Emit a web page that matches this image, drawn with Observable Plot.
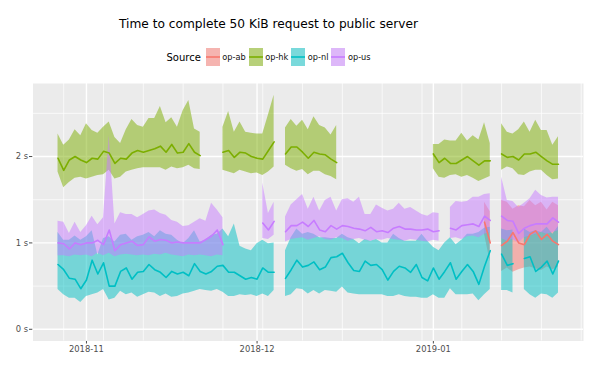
<!DOCTYPE html>
<html>
<head>
<meta charset="utf-8">
<script src="https://cdn.jsdelivr.net/npm/d3@7"></script>
<script src="https://cdn.jsdelivr.net/npm/@observablehq/plot@0.6"></script>
<style>
  body { margin: 0; background: #fff; font-family: "DejaVu Sans", sans-serif; }
  #wrap { position: relative; width: 599px; height: 366px; overflow: hidden; }
  #title { position: absolute; left: 0; width: 537px; top: 17px; line-height: 14px; text-align: center; font-size: 12.2px; color: #000; white-space: nowrap; }
  #legend { position: absolute; left: 0; width: 540px; top: 48px; height: 18px; display: flex; justify-content: center; align-items: center; font-size: 8.2px; color: #111; white-space: nowrap; }
  #legend svg { display: block; }
  #chart { position: absolute; left: 0; top: 75px; }
</style>
</head>
<body>
<div id="wrap">
  <div id="title"></div>
  <div id="legend"></div>
  <div id="chart"></div>
</div>
<script>
const _ = null;

const titleText = "Time to complete 50 KiB request to public server";
const legendTitle = "Source";
const sources = ["op-ab", "op-hk", "op-nl", "op-us"];
const colors = ["#F8766D", "#7CAE00", "#00BFC4", "#C77CFF"];

// first day of each daily series (one value per day, null = no data)
const firstDay = { "op-ab": "2019-01-10", "op-hk": "2018-10-27", "op-nl": "2018-10-27", "op-us": "2018-10-27" };

// op-ab (seconds)
const abLo  = [1.10, 0.78, _, 0.67, 0.71, 0.66, 0.69, 0.71, 0.72, 0.70, 0.68, 0.72, 0.69, 0.72];
const abMed = [1.24, 1.00, _, 0.97, 1.02, 1.12, 1.00, 0.98, 1.10, 1.14, 1.04, 1.10, 1.02, 0.98];
const abHi  = [1.47, 1.36, _, 1.49, 1.47, 1.39, 1.43, 1.42, 1.49, 1.43, 1.47, 1.38, 1.47, 1.43];

// op-hk
const hkMed = [1.98, 1.84, 1.96, 2.00, 1.96, 1.93, 1.98, 1.97, 2.06, 2.04, 1.92, 1.98, 1.97, 2.04, 2.07, 2.05, 2.07, 2.09, 2.12, 2.05, 2.14, 2.04, 2.05, 2.15, 2.05, 2.01,
  _, _, _,
  2.05, 2.07, 1.99, 2.05, 2.04, 2.00, 1.98, 1.97, 2.07, 2.17,
  _,
  2.03, 2.11, 2.11, 2.05, 1.98, 2.05, 2.03, 2.02, 1.97, 1.93,
  _, _, _, _, _, _, _, _, _, _, _, _, _, _, _, _,
  2.03, 1.93, 1.98, 1.92, 1.92, 1.96, 2.00, 1.95, 1.90, 1.95, 1.95,
  _,
  2.03, 1.99, 2.00, 1.96, 2.03, 2.03, 2.05, 2.00, 1.95, 1.91, 1.91];
const hkHi = [2.26, 2.13, 2.19, 2.31, 2.24, 2.38, 2.30, 2.27, 2.34, 2.40, 2.22, 2.15, 2.31, 2.43, 2.36, 2.34, 2.44, 2.44, 2.58, 2.39, 2.45, 2.34, 2.53, 2.65, 2.32, 2.28,
  _, _, _,
  2.34, 2.52, 2.28, 2.40, 2.28, 2.27, 2.26, 2.26, 2.48, 2.71,
  _,
  2.33, 2.43, 2.35, 2.42, 2.31, 2.46, 2.36, 2.33, 2.25, 2.36,
  _, _, _, _, _, _, _, _, _, _, _, _, _, _, _, _,
  2.14, 2.14, 2.19, 2.18, 2.18, 2.27, 2.18, 2.24, 2.19, 2.39, 2.15,
  _,
  2.38, 2.28, 2.26, 2.31, 2.40, 2.28, 2.42, 2.30, 2.30, 2.13, 2.23];
const hkLo = [1.82, 1.64, 1.70, 1.75, 1.76, 1.74, 1.76, 1.78, 1.79, 1.84, 1.74, 1.76, 1.82, 1.84, 1.86, 1.87, 1.87, 1.87, 1.87, 1.84, 1.88, 1.86, 1.87, 1.90, 1.86, 1.85,
  _, _, _,
  1.84, 1.82, 1.80, 1.84, 1.82, 1.80, 1.81, 1.78, 1.82, 1.88,
  _,
  1.90, 1.86, 1.83, 1.85, 1.79, 1.83, 1.83, 1.79, 1.77, 1.73,
  _, _, _, _, _, _, _, _, _, _, _, _, _, _, _, _,
  1.86, 1.76, 1.75, 1.78, 1.79, 1.76, 1.78, 1.75, 1.71, 1.74, 1.77,
  _,
  1.84, 1.88, 1.86, 1.79, 1.78, 1.82, 1.84, 1.84, 1.78, 1.73, 1.74];

// op-nl
const nlMed = [0.75, 0.69, 0.59, 0.58, 0.47, 0.57, 0.80, 0.64, 0.77, 0.50, 0.50, 0.67, 0.71, 0.58, 0.66, 0.67, 0.75, 0.69, 0.66, 0.60, 0.67, 0.64, 0.66, 0.62, 0.76, 0.67, 0.64, 0.67, 0.73, 0.74, 0.66, 0.66, 0.62, 0.58, 0.60, 0.58, 0.71, 0.66, 0.66,
  _,
  0.59, 0.69, 0.80, 0.72, 0.74, 0.78, 0.69, 0.72, 0.83, 0.84, 0.88, 0.77, 0.68, 0.67, 0.79, 0.74, 0.75, 0.69, 0.57, 0.67, 0.73, 0.71, 0.66, 0.75, 0.60, 0.56, 0.71, 0.58, 0.67, 0.77, 0.58, 0.67, 0.75, 0.67, 0.52, 0.73, 0.91,
  _,
  0.87, 0.74, 0.76,
  _,
  0.82, 0.84, 0.67, 0.72, 0.79, 0.64, 0.79];
const nlHi = [1.12, 1.03, 1.03, 1.08, 1.03, 1.07, 1.14, 0.86, 1.05, 1.07, 1.01, 1.09, 1.10, 1.03, 1.07, 1.09, 1.12, 1.07, 1.14, 1.10, 1.09, 1.03, 0.99, 1.05, 1.14, 1.01, 1.03, 1.09, 1.10, 1.16, 1.07, 1.22, 0.96, 0.93, 0.91, 0.99, 1.03, 0.99, 1.00,
  _,
  0.91, 1.06, 1.16, 1.10, 1.12, 1.10, 1.06, 1.06, 1.05, 1.05, 1.10, 1.06, 1.04, 0.99, 1.04, 1.02, 1.04, 1.00, 1.00, 1.10, 1.05, 1.02, 1.02, 1.02, 1.10, 1.02, 0.95, 0.91, 1.00, 1.06, 0.98, 1.03, 1.10, 1.10, 1.12, 1.17, 1.18,
  _,
  1.16, 1.14, 1.15,
  _,
  1.16, 1.12, 1.14, 1.12, 1.18, 1.10, 1.19];
const nlLo = [0.46, 0.40, 0.36, 0.36, 0.31, 0.38, 0.40, 0.42, 0.46, 0.34, 0.36, 0.44, 0.40, 0.42, 0.37, 0.40, 0.43, 0.42, 0.38, 0.41, 0.37, 0.38, 0.41, 0.42, 0.44, 0.46, 0.45, 0.44, 0.46, 0.43, 0.38, 0.38, 0.40, 0.39, 0.40, 0.38, 0.41, 0.38, 0.45,
  _,
  0.38, 0.40, 0.47, 0.46, 0.41, 0.45, 0.41, 0.45, 0.44, 0.43, 0.49, 0.42, 0.41, 0.40, 0.40, 0.40, 0.40, 0.40, 0.38, 0.38, 0.40, 0.38, 0.37, 0.37, 0.36, 0.36, 0.40, 0.36, 0.36, 0.47, 0.40, 0.40, 0.40, 0.41, 0.33, 0.40, 0.46,
  _,
  0.45, 0.45, 0.42,
  _,
  0.46, 0.40, 0.36, 0.41, 0.40, 0.36, 0.42];

// op-us
const usMed = [1.00, 0.99, 0.93, 1.00, 0.98, 1.00, 1.00, 1.03, 0.98, 1.15, 0.91, 0.98, 1.00, 1.02, 0.97, 0.98, 1.07, 1.02, 1.04, 1.03, 1.00, 1.01, 1.00, 1.00, 1.00, 1.00, 1.04, 1.08, 1.15, 0.98,
  _, _, _, _, _, _,
  1.23, 1.15, 1.25,
  _,
  1.13, 1.20, 1.20, 1.24, 1.19, 1.26, 1.15, 1.13, 1.20, 1.16, 1.20, 1.19, 1.17, 1.16, 1.14, 1.18, 1.13, 1.14, 1.12, 1.17, 1.19, 1.16, 1.16, 1.15, 1.15, 1.16, 1.13, 1.14,
  _,
  1.17, 1.15, 1.20, 1.21, 1.22, 1.19, 1.31, 1.26,
  _,
  1.31, 1.26, 1.25, 1.11, 1.17, 1.20, 1.22, 1.22, 1.22, 1.29, 1.24];
const usHi = [1.25, 1.24, 1.11, 1.24, 1.12, 1.20, 1.31, 1.21, 1.29, 2.24, 1.22, 1.35, 1.33, 1.33, 1.29, 1.33, 1.37, 1.38, 1.34, 1.32, 1.26, 1.24, 1.19, 1.20, 1.24, 1.28, 1.25, 1.46, 1.38, 1.29,
  _, _, _, _, _, _,
  1.69, 1.34, 1.47,
  _,
  1.30, 1.44, 1.50, 1.56, 1.39, 1.53, 1.37, 1.49, 1.53, 1.37, 1.50, 1.51, 1.47, 1.53, 1.33, 1.33, 1.44, 1.40, 1.37, 1.39, 1.46, 1.39, 1.41, 1.37, 1.33, 1.31, 1.35, 1.34,
  _,
  1.41, 1.48, 1.47, 1.48, 1.53, 1.53, 1.56, 1.57,
  _,
  1.76, 1.49, 1.48, 1.41, 1.46, 1.51, 1.61, 1.55, 1.52, 1.53, 1.53];
const usLo = [0.85, 0.85, 0.84, 0.86, 0.85, 0.86, 0.84, 0.88, 0.85, 0.88, 0.84, 0.86, 0.87, 0.86, 0.85, 0.86, 0.85, 0.87, 0.86, 0.88, 0.86, 0.85, 0.84, 0.86, 0.85, 0.86, 0.85, 0.84, 0.86, 0.85,
  _, _, _, _, _, _,
  1.05, 1.04, 1.09,
  _,
  1.01, 1.04, 1.05, 1.06, 1.03, 1.05, 1.07, 1.04, 1.03, 1.06, 1.05, 1.02, 1.04, 1.05, 1.03, 1.02, 1.04, 1.03, 1.05, 1.04, 1.03, 1.02, 1.04, 1.03, 1.02, 1.01, 1.03, 1.02,
  _,
  1.05, 1.06, 1.04, 1.07, 1.08, 1.06, 1.10, 1.12,
  _,
  1.05, 1.02, 1.04, 1.00, 1.06, 1.08, 1.10, 1.12, 1.10, 1.12, 1.14];

// axes
const xTickDates = ["2018-11-01", "2018-12-01", "2019-01-01"];
const xTickFormat = "%Y-%m";
const xMinorDates = ["2018-10-28", "2018-11-04", "2018-11-11", "2018-11-18", "2018-11-25", "2018-12-02", "2018-12-09",
  "2018-12-16", "2018-12-23", "2018-12-30", "2019-01-06", "2019-01-13", "2019-01-20", "2019-01-27"];
const yTicks = [0, 1, 2];
const yMinor = [0.5, 1.5, 2.5];
const yUnit = " s";

// ---------------------------------------------------------------
const series = {
  "op-ab": [abLo, abMed, abHi],
  "op-hk": [hkLo, hkMed, hkHi],
  "op-nl": [nlLo, nlMed, nlHi],
  "op-us": [usLo, usMed, usHi]
};
const day = 864e5;
const toDate = s => new Date(s + "T00:00:00Z");
function rowsFor(s) {
  const [lo, med, hi] = series[s];
  const t0 = +toDate(firstDay[s]);
  return med.map((m, i) => ({ source: s, date: new Date(t0 + i * day), lo: lo[i], med: m, hi: hi[i] }));
}

// data extent with ggplot-style 5% expansion
const allRows = sources.flatMap(rowsFor);
const dates = allRows.map(d => +d.date);
const dMin = d3.min(dates), dMax = d3.max(dates);
const dPad = (dMax - dMin) * 0.05;
const yMaxData = d3.max(allRows, d => d.hi);
const yMinData = 0;
const yPad = (yMaxData - yMinData) * 0.05;

document.getElementById("title").textContent = titleText;

const leg = document.getElementById("legend");
leg.innerHTML = `<span style="font-size:10px;color:#000;margin-right:5px">${legendTitle}</span>` +
  sources.map((s, k) =>
    `<svg width="14" height="18"><rect width="14" height="18" fill="#F2F2F2"/>` +
    `<rect width="14" height="18" fill="${colors[k]}" fill-opacity="0.5"/>` +
    `<line x1="0" x2="14" y1="9" y2="9" stroke="${colors[k]}" stroke-width="1.6"/></svg>` +
    `<span style="margin:0 3px 0 2.5px">${s}</span>`).join("");

const chart = Plot.plot({
  width: 599,
  height: 291,
  marginTop: 8,
  marginBottom: 25.5,
  marginLeft: 32.5,
  marginRight: 16,
  style: { fontFamily: "DejaVu Sans, sans-serif", fontSize: "8.4px", color: "#4D4D4D", background: "transparent", overflow: "visible" },
  x: {
    type: "utc",
    domain: [new Date(dMin - dPad), new Date(dMax + dPad)],
    ticks: xTickDates.map(toDate),
    tickFormat: d3.utcFormat(xTickFormat),
    tickSize: 3,
    tickPadding: 2,
    label: null
  },
  y: {
    domain: [yMinData - yPad, yMaxData + yPad],
    ticks: yTicks,
    tickFormat: d => d + yUnit,
    tickSize: 3.5,
    tickPadding: 1.5,
    label: null
  },
  marks: [
    Plot.frame({ fill: "#EBEBEB", stroke: "none" }),
    Plot.ruleY(yMinor, { stroke: "#fff", strokeWidth: 0.7 }),
    Plot.ruleX(xMinorDates.map(toDate), { stroke: "#fff", strokeWidth: 0.7 }),
    Plot.ruleY(yTicks, { stroke: "#fff", strokeWidth: 1.4 }),
    Plot.ruleX(xTickDates.map(toDate), { stroke: "#fff", strokeWidth: 1.4 }),
    ...sources.map((s, k) => Plot.areaY(rowsFor(s), { x: "date", y1: "lo", y2: "hi", fill: colors[k], fillOpacity: 0.5 })),
    ...sources.map((s, k) => Plot.lineY(rowsFor(s), { x: "date", y: "med", stroke: colors[k], strokeWidth: 1.6 }))
  ]
});
document.getElementById("chart").appendChild(chart);
</script>
</body>
</html>
